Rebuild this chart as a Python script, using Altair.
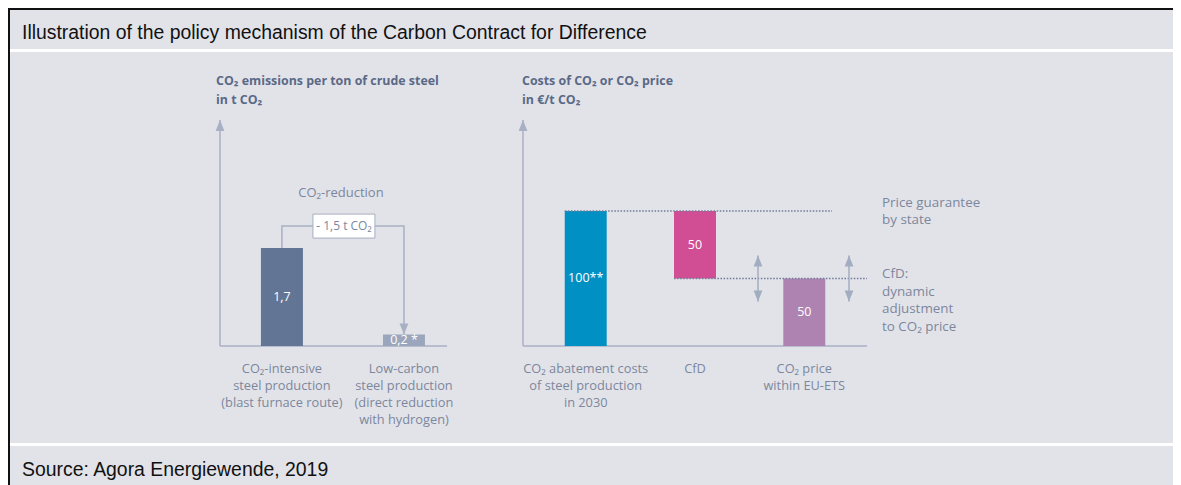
import altair as alt
import pandas as pd

# ---------------- data ----------------
left_categories = [
    "CO₂-intensive|steel production|(blast furnace route)",
    "Low-carbon|steel production|(direct reduction|with hydrogen)",
]
left_values = [1.7, 0.2]
left_value_labels = ["1,7", "0,2 *"]
left_colors = ["#627594", "#9ba6bd"]
reduction_title = "CO₂-reduction"
reduction_label = "- 1,5 t CO₂"

right_categories = [
    "CO₂ abatement costs|of steel production|in 2030",
    "CfD",
    "CO₂ price|within EU-ETS",
]
right_top = [100, 100, 50]
right_base = [0, 50, 0]
right_value_labels = ["100**", "50", "50"]
right_colors = ["#0090c3", "#d14d94", "#ae83b1"]

left_title = "CO₂ emissions per ton of crude steel\nin t CO₂"
right_title = "Costs of CO₂ or CO₂ price\nin €/t CO₂"
note_guarantee = "Price guarantee\nby state"
note_cfd = "CfD:\ndynamic\nadjustment\nto CO₂ price"
main_title = "Illustration of the policy mechanism of the Carbon Contract for Difference"
source_text = "Source: Agora Energiewende, 2019"

# annotation levels (data units)
LEFT_Y_MAX = 3.92
BRACKET_LEVEL = 2.08
REDUCTION_TITLE_LEVEL = 2.65
RIGHT_Y_MAX = 167.4
ARROW_HALF = 17

# ---------------- layout / style ----------------
W, H = 1165, 477
BASE_Y, TOP_Y = 338, 112
LX0, LX1 = 212, 439
RX0, RX1 = 515, 859
FONT = "Open Sans"
BG = "#e2e3e9"
TEXT = "#7c879d"
TITLE_COL = "#5a6986"
AXIS_COL = "#a8b1c4"
ARROW_COL = "#a3adc2"
DOT_COL = "#6e7b97"

TRI_DOWN = "M-0.8,-2L0.8,-2L0,0Z"
TRI_UP = "M-0.8,2L0.8,2L0,0Z"
BOX = "M1,-0.387L3,-0.387L3,0.387L1,0.387Z"  # box drawn to the right of its anchor

lx = alt.Scale(domain=left_categories, range=[LX0, LX1], paddingInner=0.656,
               paddingOuter=0.258, align=0.65)
ly = alt.Scale(domain=[0, LEFT_Y_MAX], range=[BASE_Y, TOP_Y], nice=False, zero=True)
rx = alt.Scale(domain=right_categories, range=[RX0, RX1], paddingInner=0.616,
               paddingOuter=0.382, align=0.5)
ry = alt.Scale(domain=[0, RIGHT_Y_MAX], range=[BASE_Y, TOP_Y], nice=False, zero=True)

one = pd.DataFrame({"k": [0]})


def axis_layers(xs, ys, cats, x0, x1, ymax):
    base_line = alt.Chart(one).mark_rule(color=AXIS_COL, strokeWidth=1.5).encode(
        x=alt.value(x0), x2=alt.value(x1),
        y=alt.Y(datum=0, type="quantitative", scale=ys, axis=None))
    y_line = alt.Chart(one).mark_rule(color=AXIS_COL, strokeWidth=1.5).encode(
        x=alt.value(x0),
        y=alt.Y(datum=0, type="quantitative", scale=ys, axis=None),
        y2=alt.Y2(datum=ymax))
    y_head = alt.Chart(one).mark_point(shape=TRI_UP, size=121, filled=True, color=AXIS_COL,
                                       opacity=1).encode(
        x=alt.value(x0), y=alt.Y(datum=ymax, type="quantitative", scale=ys, axis=None))
    labels = alt.Chart(pd.DataFrame({"cat": cats})).mark_text(
        color=TEXT, font=FONT, fontSize=12.8, align="center", baseline="alphabetic",
        lineBreak="|", lineHeight=17, dy=27).encode(
        x=alt.X("cat:N", scale=xs, axis=None),
        y=alt.Y(datum=0, type="quantitative", scale=ys, axis=None),
        text="cat:N")
    return [base_line, y_line, y_head, labels]


# ---------------- left panel ----------------
ldf = pd.DataFrame({"cat": left_categories, "value": left_values, "label": left_value_labels})
lbase = alt.Chart(ldf)

l_bars = lbase.mark_bar().encode(
    x=alt.X("cat:N", scale=lx, sort=left_categories, axis=None),
    y=alt.Y("value:Q", scale=ly, axis=None),
    color=alt.Color("cat:N", scale=alt.Scale(domain=left_categories, range=left_colors), legend=None),
)
l_labels = lbase.transform_calculate(mid="datum.value / 2").mark_text(
    color="white", font=FONT, fontSize=12.5
).encode(
    x=alt.X("cat:N", scale=lx, axis=None),
    y=alt.Y("mid:Q", scale=ly, axis=None),
    text="label:N",
)

bracket_df = pd.DataFrame({
    "cat": [left_categories[0], left_categories[0], left_categories[1], left_categories[1]],
    "y": [left_values[0], BRACKET_LEVEL, BRACKET_LEVEL, left_values[1]],
    "o": [0, 1, 2, 3],
})
l_bracket = alt.Chart(bracket_df).mark_line(color=AXIS_COL, strokeWidth=1.5).encode(
    x=alt.X("cat:N", scale=lx, axis=None),
    y=alt.Y("y:Q", scale=ly, axis=None),
    order="o:Q",
)
l_arrowhead = alt.Chart(ldf.iloc[[1]]).mark_point(
    shape=TRI_DOWN, size=121, filled=True, color=AXIS_COL, opacity=1
).encode(
    x=alt.X("cat:N", scale=lx, axis=None),
    y=alt.Y("value:Q", scale=ly, axis=None),
)

box_df = pd.DataFrame({"cat": [left_categories[0]], "y": [BRACKET_LEVEL], "t": [reduction_label]})
l_box = alt.Chart(box_df).mark_point(
    shape=BOX, size=3844, filled=True, fill="white", stroke="#a5aec2", strokeWidth=1, opacity=1
).encode(
    x=alt.X("cat:N", scale=lx, axis=None),
    y=alt.Y("y:Q", scale=ly, axis=None),
)
l_boxtext = alt.Chart(box_df).mark_text(
    color=TEXT, font=FONT, fontSize=12, dx=62
).encode(
    x=alt.X("cat:N", scale=lx, axis=None),
    y=alt.Y("y:Q", scale=ly, axis=None),
    text="t:N",
)
red_df = pd.DataFrame({"cat": [left_categories[0]], "y": [REDUCTION_TITLE_LEVEL], "t": [reduction_title]})
l_redtitle = alt.Chart(red_df).mark_text(
    color=TEXT, font=FONT, fontSize=13, dx=59
).encode(
    x=alt.X("cat:N", scale=lx, axis=None),
    y=alt.Y("y:Q", scale=ly, axis=None),
    text="t:N",
)

left = alt.layer(*axis_layers(lx, ly, left_categories, LX0, LX1, LEFT_Y_MAX),
                 l_bars, l_labels, l_bracket, l_arrowhead, l_box, l_boxtext, l_redtitle)

# ---------------- right panel ----------------
rdf = pd.DataFrame({"cat": right_categories, "top": right_top, "base": right_base,
                    "label": right_value_labels})
rbase = alt.Chart(rdf)
r_bars = rbase.mark_bar().encode(
    x=alt.X("cat:N", scale=rx, sort=right_categories, axis=None),
    y=alt.Y("top:Q", scale=ry, axis=None),
    y2="base:Q",
    color=alt.Color("cat:N", scale=alt.Scale(domain=right_categories, range=right_colors), legend=None),
)
r_labels = rbase.transform_calculate(mid="(datum.top + datum.base) / 2").mark_text(
    color="white", font=FONT, fontSize=12.5
).encode(
    x=alt.X("cat:N", scale=rx, axis=None),
    y=alt.Y("mid:Q", scale=ry, axis=None),
    text="label:N",
)

g1 = alt.Chart(pd.DataFrame({"cat": [right_categories[0]], "y": [right_top[0]]})).mark_rule(
    color=DOT_COL, strokeWidth=1.5, strokeDash=[1.5, 1.6]
).encode(
    x=alt.X("cat:N", scale=rx, axis=None, bandPosition=0),
    x2=alt.value(824),
    y=alt.Y("y:Q", scale=ry, axis=None),
)
g2 = alt.Chart(pd.DataFrame({"cat": [right_categories[1]], "y": [right_base[1]]})).mark_rule(
    color=DOT_COL, strokeWidth=1.5, strokeDash=[1.5, 1.6]
).encode(
    x=alt.X("cat:N", scale=rx, axis=None, bandPosition=0),
    x2=alt.value(RX1),
    y=alt.Y("y:Q", scale=ry, axis=None),
)

arrow_df = pd.DataFrame({"price": [right_top[2]]})


def double_arrow(xpix):
    b = alt.Chart(arrow_df).transform_calculate(
        lo=f"datum.price - {ARROW_HALF}", hi=f"datum.price + {ARROW_HALF}")
    line = b.mark_rule(color=ARROW_COL, strokeWidth=1.5).encode(
        x=alt.value(xpix), y=alt.Y("lo:Q", scale=ry, axis=None), y2="hi:Q")
    up = b.mark_point(shape=TRI_UP, size=121, filled=True, color=ARROW_COL, opacity=1).encode(
        x=alt.value(xpix), y=alt.Y("hi:Q", scale=ry, axis=None))
    down = b.mark_point(shape=TRI_DOWN, size=121, filled=True, color=ARROW_COL, opacity=1).encode(
        x=alt.value(xpix), y=alt.Y("lo:Q", scale=ry, axis=None))
    return [line, up, down]


note_df = pd.DataFrame({"y": [right_top[0], right_base[1]], "t": [note_guarantee, note_cfd]})
r_note1 = alt.Chart(note_df.iloc[[0]]).mark_text(
    color=TEXT, font=FONT, fontSize=13.4, align="left", baseline="alphabetic",
    lineBreak="\n", lineHeight=17.3, dy=-4
).encode(x=alt.value(874), y=alt.Y("y:Q", scale=ry, axis=None), text="t:N")
r_note2 = alt.Chart(note_df.iloc[[1]]).mark_text(
    color=TEXT, font=FONT, fontSize=13.4, align="left", baseline="alphabetic",
    lineBreak="\n", lineHeight=17.4, dy=0
).encode(x=alt.value(874), y=alt.Y("y:Q", scale=ry, axis=None), text="t:N")

right = alt.layer(*axis_layers(rx, ry, right_categories, RX0, RX1, RIGHT_Y_MAX),
                  r_bars, r_labels, g1, g2, *double_arrow(750), *double_arrow(841),
                  r_note1, r_note2)

# ---------------- frame ----------------
frame = [
    alt.Chart(one).mark_rule(color="white", strokeWidth=3).encode(
        x=alt.value(2), x2=alt.value(W), y=alt.value(42.5)),
    alt.Chart(one).mark_rule(color="white", strokeWidth=3).encode(
        x=alt.value(2), x2=alt.value(W), y=alt.value(436.5)),
    alt.Chart(one).mark_rule(color="#111111", strokeWidth=2).encode(
        x=alt.value(0), x2=alt.value(W), y=alt.value(1)),
    alt.Chart(one).mark_rule(color="#111111", strokeWidth=2).encode(
        x=alt.value(1), y=alt.value(0), y2=alt.value(H)),
    alt.Chart(one).mark_text(text=main_title, font="Liberation Sans", fontSize=19.4, color="#111111",
                             align="left", baseline="alphabetic").encode(
        x=alt.value(14), y=alt.value(30.5)),
    alt.Chart(one).mark_text(text=source_text, font="Liberation Sans", fontSize=19.4, color="#111111",
                             align="left", baseline="alphabetic").encode(
        x=alt.value(14), y=alt.value(468)),
    alt.Chart(one).mark_text(text=left_title, font=FONT, fontSize=12.4, fontWeight="bold", color=TITLE_COL,
                             align="left", baseline="alphabetic", lineBreak="\n", lineHeight=19).encode(
        x=alt.value(208), y=alt.value(77)),
    alt.Chart(one).mark_text(text=right_title, font=FONT, fontSize=12.4, fontWeight="bold", color=TITLE_COL,
                             align="left", baseline="alphabetic", lineBreak="\n", lineHeight=18.5).encode(
        x=alt.value(514), y=alt.value(77)),
]

chart = alt.layer(*frame, left, right).resolve_scale(
    x="independent", y="independent", color="independent"
).properties(
    width=W, height=H, autosize=alt.AutoSizeParams(type="none"), padding=0
).configure(background=BG).configure_view(stroke=None)

chart.save("out.html", embed_options={"renderer": "svg", "actions": False})
